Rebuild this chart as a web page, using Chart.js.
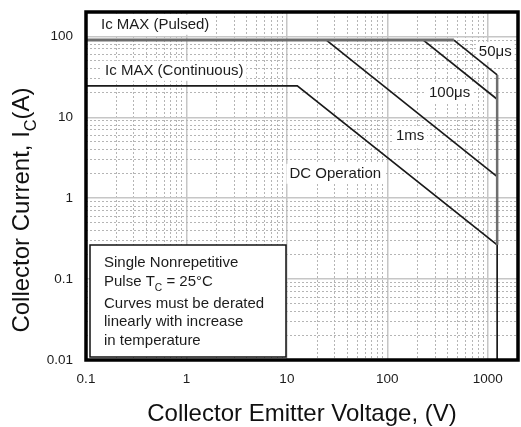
<!DOCTYPE html>
<html>
<head>
<meta charset="utf-8">
<script src="https://cdn.jsdelivr.net/npm/chart.js@4.4.1/dist/chart.umd.min.js"></script>
<style>
  html, body { margin: 0; padding: 0; background: #fff; }
  canvas { display: block; }
</style>
</head>
<body>
<canvas id="soa" width="521" height="427"></canvas>
<script>
// Tick labels (log axes)
const xTickLabels = [0.1, 1, 10, 100, 1000];
const yTickLabels = [0.01, 0.1, 1, 10, 100];

// Ic MAX (Pulsed)
const pulsedV = [0.1, 460];
const pulsedI = [90, 90];
// 50us pulse
const us50V = [460, 1240];
const us50I = [90, 33.4];
// 100us pulse
const us100V = [228, 1240];
const us100I = [90, 16.7];
// 1ms pulse
const ms1V = [24.7, 1240];
const ms1I = [90, 1.85];
// DC operation (Ic MAX continuous, then power limit, then Vce max)
const dcV = [0.1, 12.7, 1240, 1240];
const dcI = [24.4, 24.4, 0.265, 0.01];
// Vce max limit above the DC curve
const vceV = [1240, 1240];
const vceI = [33.4, 0.265];

// Curve labels, anchored (left, middle) at data coordinates
const curveLabels = [
    { text: 'Ic MAX (Pulsed)', v: 0.141, i: 139 },
    { text: 'Ic MAX (Continuous)', v: 0.155, i: 37.5 },
    { text: '50\u03bcs', v: 815, i: 64 },
    { text: '100\u03bcs', v: 260, i: 20 },
    { text: '1ms', v: 122, i: 5.9 },
    { text: 'DC Operation', v: 10.6, i: 2.0 }
];

// Note box text
const noteLines = [
    [{ t: 'Single Nonrepetitive' }],
    [{ t: 'Pulse T' }, { t: 'C', sub: true }, { t: ' = 25\u00b0C' }],
    [{ t: 'Curves must be derated' }],
    [{ t: 'linearly with increase' }],
    [{ t: 'in temperature' }]
];

const yTitle = [{ t: 'Collector Current, I' }, { t: 'C', sub: true }, { t: '(A)' }];

const FONT = '"Liberation Sans", Arial, sans-serif';
const LINE = '#1a1a1a';
const TEXT = '#1c1c1c';

function pts(v, i) {
    return v.map((x, k) => ({ x: x, y: i[k] }));
}

function isMajor(value, list) {
    return list.some(t => Math.abs(t - value) / t < 1e-6);
}

// Gridlines at 1..9 x 10^n
function gridTicks(scale) {
    const ticks = [];
    const lo = scale.min, hi = scale.max;
    for (let e = Math.floor(Math.log10(lo)); e <= Math.ceil(Math.log10(hi)); e++) {
        for (let m = 1; m < 10; m++) {
            const v = Number((m * Math.pow(10, e)).toPrecision(6));
            if (v >= lo * 0.999 && v <= hi * 1.001) ticks.push({ value: v });
        }
    }
    scale.ticks = ticks;
}

function drawRich(ctx, segs, x, y, size) {
    ctx.textBaseline = 'middle';
    ctx.textAlign = 'left';
    let cx = x;
    segs.forEach(s => {
        const sz = s.sub ? size * 0.68 : size;
        ctx.font = sz + 'px ' + FONT;
        ctx.fillText(s.t, cx, s.sub ? y + size * 0.38 : y);
        cx += ctx.measureText(s.t).width;
    });
    return cx - x;
}

function richWidth(ctx, segs, size) {
    let w = 0;
    segs.forEach(s => {
        ctx.font = (s.sub ? size * 0.68 : size) + 'px ' + FONT;
        w += ctx.measureText(s.t).width;
    });
    return w;
}

const annotations = {
    id: 'annotations',
    beforeDatasetsDraw(chart) {
        const { ctx, scales: { x, y } } = chart;
        ctx.save();
        ctx.font = '15px ' + FONT;
        ctx.fillStyle = '#fff';
        curveLabels.forEach(l => {
            const px = x.getPixelForValue(l.v);
            const py = y.getPixelForValue(l.i);
            const w = ctx.measureText(l.text).width;
            ctx.fillRect(px - 3, py - 10, w + 6, 20);
        });
        ctx.restore();
    },
    afterDatasetsDraw(chart) {
        const { ctx, chartArea: a, scales: { x, y } } = chart;
        ctx.save();
        ctx.fillStyle = TEXT;
        ctx.font = '15px ' + FONT;
        ctx.textBaseline = 'middle';
        curveLabels.forEach(l => {
            ctx.fillText(l.text, x.getPixelForValue(l.v), y.getPixelForValue(l.i));
        });

        // note box
        const bx = a.left + 4, by = a.bottom - 115, bw = 196, bh = 112;
        ctx.fillStyle = '#fff';
        ctx.fillRect(bx, by, bw, bh);
        ctx.strokeStyle = '#111';
        ctx.lineWidth = 1.5;
        ctx.strokeRect(bx, by, bw, bh);
        ctx.fillStyle = TEXT;
        const lineY = [18, 37, 59, 77, 96];
        noteLines.forEach((segs, k) => drawRich(ctx, segs, bx + 14, by + lineY[k], 15));
        ctx.restore();
    },
    afterDraw(chart) {
        const { ctx, chartArea: a } = chart;
        ctx.save();
        ctx.strokeStyle = '#000';
        ctx.lineWidth = 3.5;
        ctx.strokeRect(a.left, a.top, a.right - a.left, a.bottom - a.top);

        // y axis title with subscript
        ctx.fillStyle = '#111';
        ctx.translate(22, 210);
        ctx.rotate(-Math.PI / 2);
        const w = richWidth(ctx, yTitle, 24);
        drawRich(ctx, yTitle, -w / 2, 0, 24);
        ctx.restore();
    }
};

function series(v, i, color, width) {
    return {
        data: pts(v, i),
        showLine: true,
        borderColor: color,
        borderWidth: width,
        pointRadius: 0,
        fill: false,
        tension: 0
    };
}

const gridColor = list => c => isMajor(c.tick.value, list) ? '#c6c6c6' : '#b5b5b5';
const gridWidth = list => c => isMajor(c.tick.value, list) ? 1.5 : 1;
const gridDash = list => c => (c.tick && !isMajor(c.tick.value, list)) ? [2, 2] : [];

new Chart(document.getElementById('soa'), {
    type: 'scatter',
    data: {
        datasets: [
            series(pulsedV, pulsedI, '#6e6e6e', 3),
            series(vceV, vceI, '#6e6e6e', 2.5),
            series(us50V, us50I, LINE, 1.7),
            series(us100V, us100I, LINE, 1.7),
            series(ms1V, ms1I, LINE, 1.7),
            series(dcV, dcI, LINE, 1.7)
        ]
    },
    options: {
        responsive: false,
        animation: false,
        layout: { padding: { top: 12, right: 3, left: 0, bottom: 0 } },
        plugins: {
            legend: { display: false },
            tooltip: { enabled: false }
        },
        scales: {
            x: {
                type: 'logarithmic',
                min: 0.1,
                max: 2000,
                afterBuildTicks: gridTicks,
                afterFit: s => { s.height = 67; s.paddingLeft = 0; s.paddingRight = 0; },
                ticks: {
                    autoSkip: false,
                    maxRotation: 0,
                    padding: 11,
                    color: TEXT,
                    font: { family: FONT, size: 13.5 },
                    callback: v => isMajor(v, xTickLabels) ? String(v) : ''
                },
                grid: { color: gridColor(xTickLabels), lineWidth: gridWidth(xTickLabels), drawTicks: false },
                border: { display: false, dash: gridDash(xTickLabels) },
                title: {
                    display: true,
                    text: 'Collector Emitter Voltage, (V)',
                    color: '#111',
                    font: { family: FONT, size: 24, lineHeight: 1 },
                    padding: { top: 0, bottom: 1 }
                }
            },
            y: {
                type: 'logarithmic',
                min: 0.01,
                max: 200,
                afterBuildTicks: gridTicks,
                afterFit: s => { s.width = 86; s.paddingTop = 0; s.paddingBottom = 0; },
                ticks: {
                    autoSkip: false,
                    padding: 13,
                    color: TEXT,
                    font: { family: FONT, size: 13.5 },
                    callback: v => isMajor(v, yTickLabels) ? String(v) : ''
                },
                grid: { color: gridColor(yTickLabels), lineWidth: gridWidth(yTickLabels), drawTicks: false },
                border: { display: false, dash: gridDash(yTickLabels) }
            }
        }
    },
    plugins: [annotations]
});
</script>
</body>
</html>
